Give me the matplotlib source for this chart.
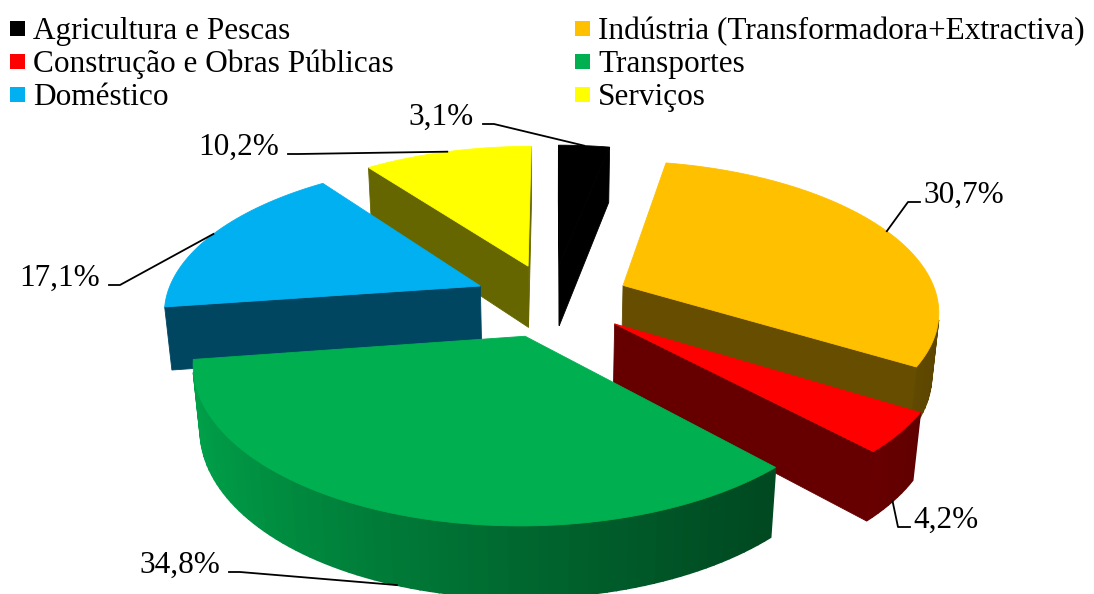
import numpy as np
import matplotlib.pyplot as plt
from matplotlib.patches import Polygon, Rectangle

plt.rcParams['font.family'] = ['Liberation Serif', 'DejaVu Serif']

# Consumo de energia final por sector (%)
sectores = ['Agricultura e Pescas', 'Indústria (Transformadora+Extractiva)',
            'Construção e Obras Públicas', 'Transportes', 'Doméstico', 'Serviços']
valores = [3.1, 30.7, 4.2, 34.8, 17.1, 10.2]
rotulos = ['3,1%', '30,7%', '4,2%', '34,8%', '17,1%', '10,2%']
cores = ['#000000', '#FFC000', '#FF0000', '#00B050', '#00B0F0', '#FFFF00']

# parametros da vista 3D (perspectiva)
elev = np.radians(28.0)
dist = 5.72
foco = 1802.0
cx, cy = 552.0, 300.0
altura = 0.23
explode = 0.25

cam = np.array([0.0, -dist * np.cos(elev), dist * np.sin(elev)])


def proj(X, Y, Z):
    w = dist + Y * np.cos(elev) - Z * np.sin(elev)
    px = cx + foco * X / w
    py = cy - foco * (Y * np.sin(elev) + Z * np.cos(elev)) / w
    return px, py


def visivel(normal, ponto):
    return np.dot(normal, cam - ponto) > 0


def escurecer(cor, f):
    r, g, b = plt.matplotlib.colors.to_rgb(cor)
    return (r * f, g * f, b * f)


def brilho_lateral(t):
    # mais claro a esquerda, mais escuro a direita
    s = (1 - np.sin(t)) / 2
    return 0.36 + 0.56 * s ** 1.3


fig = plt.figure(figsize=(10.94, 5.94), dpi=100)
ax = fig.add_axes([0, 0, 1, 1])
ax.set_xlim(0, 1094)
ax.set_ylim(594, 0)
ax.axis('off')

total = sum(valores)
fim = np.cumsum(valores) / total * 2 * np.pi
ini = np.concatenate([[0], fim[:-1]])

fatias = []
for i in range(len(valores)):
    a0, a1 = ini[i], fim[i]
    am = (a0 + a1) / 2
    ox, oy = explode * np.sin(am), explode * np.cos(am)
    centro = np.array([ox + 0.6 * np.sin(am), oy + 0.6 * np.cos(am), 0])
    d = np.linalg.norm(cam - centro)
    fatias.append((d, i, a0, a1, am, ox, oy))

# desenhar das fatias mais distantes para as mais proximas
fatias.sort(key=lambda f: -f[0])
z = 1
ancoras = {}
for d, i, a0, a1, am, ox, oy in fatias:
    cor = cores[i]
    n = max(int((a1 - a0) / (2 * np.pi) * 240), 4)
    tt = np.linspace(a0, a1, n + 1)
    X = ox + np.sin(tt)
    Y = oy + np.cos(tt)

    # parede exterior com gradiente
    for k in range(n):
        tm = (tt[k] + tt[k + 1]) / 2
        nrm = np.array([np.sin(tm), np.cos(tm), 0])
        pm = np.array([ox + np.sin(tm), oy + np.cos(tm), -altura / 2])
        if visivel(nrm, pm):
            xs = [X[k], X[k + 1], X[k + 1], X[k]]
            ys = [Y[k], Y[k + 1], Y[k + 1], Y[k]]
            zs = [0, 0, -altura, -altura]
            px, py = proj(np.array(xs), np.array(ys), np.array(zs))
            c = escurecer(cor, brilho_lateral(tm))
            ax.add_patch(Polygon(np.column_stack([px, py]), closed=True,
                                 facecolor=c, edgecolor=c, lw=1.2, zorder=z))
    z += 1

    # paredes radiais
    for a, nrm in [(a0, np.array([-np.cos(a0), np.sin(a0), 0])),
                   (a1, np.array([np.cos(a1), -np.sin(a1), 0]))]:
        pm = np.array([ox + 0.5 * np.sin(a), oy + 0.5 * np.cos(a), -altura / 2])
        if visivel(nrm, pm):
            xs = [ox, ox + np.sin(a), ox + np.sin(a), ox]
            ys = [oy, oy + np.cos(a), oy + np.cos(a), oy]
            zs = [0, 0, -altura, -altura]
            px, py = proj(np.array(xs), np.array(ys), np.array(zs))
            c = escurecer(cor, 0.4)
            ax.add_patch(Polygon(np.column_stack([px, py]), closed=True,
                                 facecolor=c, edgecolor=c, lw=0.6, zorder=z))
            z += 1

    # topo
    xs = np.concatenate([[ox], X])
    ys = np.concatenate([[oy], Y])
    px, py = proj(xs, ys, np.zeros_like(xs))
    ax.add_patch(Polygon(np.column_stack([px, py]), closed=True,
                         facecolor=cor, edgecolor=cor, lw=0.6, zorder=z))
    z += 1

    zc = -altura if np.cos(am) < 0 else 0.0
    ancoras[i] = proj(ox + np.sin(am), oy + np.cos(am), zc)

# rotulos de dados com linhas de chamada
pos_rotulos = {0: (474, 125, 'right'), 1: (923, 203, 'left'),
               2: (913, 528, 'left'), 3: (220, 573, 'right'),
               4: (100, 286, 'right'), 5: (279, 155, 'right')}
for i, (tx, ty, ha) in pos_rotulos.items():
    ax.text(tx, ty, rotulos[i], fontsize=22.5, ha=ha, va='baseline',
            zorder=z + 5)
    axp, ayp = ancoras[i]
    if ha == 'right':
        lx = [tx + 9, tx + 20, axp]
    else:
        lx = [tx - 3, tx - 15, axp]
    ly = [ty - 1, ty - 1, ayp]
    ax.plot(lx, ly, color='black', lw=1.3, zorder=z + 4)

# legenda em duas colunas
leg_x = [10, 575]
leg_y = [39, 72, 105]
for k, nome in enumerate(sectores):
    col, lin = k % 2, k // 2
    x0, y0 = leg_x[col], leg_y[lin]
    ax.add_patch(Rectangle((x0, y0 - 18), 15, 15, facecolor=cores[k],
                           edgecolor='none', zorder=z + 5))
    ax.text(x0 + 23, y0, nome, fontsize=22.5, ha='left', va='baseline',
            zorder=z + 5)

fig.savefig('out.png', dpi=100)
